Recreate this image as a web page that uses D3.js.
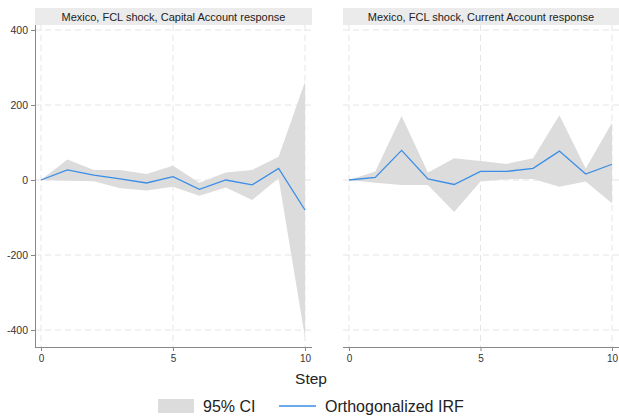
<!DOCTYPE html>
<html>
<head>
<meta charset="utf-8">
<script src="https://cdn.jsdelivr.net/npm/d3@7"></script>
<style>
  html, body { margin: 0; padding: 0; background: #fff; }
  svg { display: block; font-family: "Liberation Sans", Arial, sans-serif; }
</style>
</head>
<body>
<svg id="chart" width="619" height="419"></svg>
<script>
// Impulse-response steps
const steps = [0, 1, 2, 3, 4, 5, 6, 7, 8, 9, 10];

// Capital Account response to FCL shock
const capIrf   = [0, 27, 13, 3, -8, 9, -25, 0, -13, 31, -80];
const capUpper = [0, 55, 27, 27, 16, 38, -7, 20, 27, 62, 262];
const capLower = [0, -2, -3, -22, -28, -18, -42, -20, -53, 5, -420];

// Current Account response to FCL shock
const curIrf   = [0, 7, 79, 3, -12, 23, 23, 31, 77, 16, 42];
const curUpper = [0, 23, 171, 20, 58, 51, 43, 58, 173, 31, 153];
const curLower = [0, -7, -13, -13, -85, -4, 2, 3, -18, -4, -62];

const panelTitles = [
  "Mexico, FCL shock, Capital Account response",
  "Mexico, FCL shock, Current Account response"
];
const yTicks = [-400, -200, 0, 200, 400];
const xTicks = [0, 5, 10];
const legendLabels = ["95% CI", "Orthogonalized IRF"];

const panels = [
  { title: panelTitles[0], irf: capIrf, up: capUpper, lo: capLower, left: 35, right: 312, showY: true },
  { title: panelTitles[1], irf: curIrf, up: curUpper, lo: curLower, left: 343, right: 619, showY: false }
];

const svg = d3.select("#chart");
const plotTop = 25, plotBottom = 347;
const y = d3.scaleLinear().domain([-400, 400]).range([330, 30]);
const plainNum = d => String(d); // ASCII hyphen for negatives

const bandColor = "#dcdcdc";
const lineColor = "#3a8ee6";
const gridColor = "#e4e4e4";
const axisColor = "#888";

panels.forEach(p => {
  const x = d3.scaleLinear().domain([0, 10]).range([p.left + 6, p.right - 7]);
  const g = svg.append("g");

  // title strip
  g.append("rect")
    .attr("x", p.left).attr("y", 8)
    .attr("width", p.right - p.left).attr("height", 17)
    .attr("fill", "#ebebeb");
  g.append("text")
    .attr("x", (p.left + p.right) / 2).attr("y", 20.5)
    .attr("text-anchor", "middle")
    .attr("font-size", 11).attr("fill", "#222")
    .text(p.title);

  // grid
  g.selectAll(".hg").data(yTicks).enter().append("line")
    .attr("x1", p.left).attr("x2", p.right)
    .attr("y1", d => y(d)).attr("y2", d => y(d))
    .attr("stroke", gridColor).attr("stroke-width", 1)
    .attr("stroke-dasharray", "6,4");
  g.selectAll(".vg").data(xTicks).enter().append("line")
    .attr("x1", d => x(d)).attr("x2", d => x(d))
    .attr("y1", plotTop).attr("y2", plotBottom)
    .attr("stroke", gridColor).attr("stroke-width", 1)
    .attr("stroke-dasharray", "6,4");

  // confidence band
  const area = d3.area()
    .x((d, i) => x(steps[i]))
    .y0((d, i) => y(p.lo[i]))
    .y1((d, i) => y(p.up[i]));
  g.append("path").datum(steps).attr("d", area).attr("fill", bandColor);

  // IRF line
  const line = d3.line().x((d, i) => x(steps[i])).y((d, i) => y(p.irf[i]));
  g.append("path").datum(steps).attr("d", line)
    .attr("fill", "none").attr("stroke", lineColor).attr("stroke-width", 1.3);

  // x axis
  const xa = g.append("g").attr("transform", `translate(0,${plotBottom})`)
    .call(d3.axisBottom(x).tickValues(xTicks).tickSize(4).tickPadding(4).tickFormat(plainNum));
  xa.select(".domain").attr("d", `M${p.left},0.5H${p.right}`).attr("stroke", axisColor);
  xa.selectAll(".tick line").attr("stroke", axisColor);
  xa.selectAll(".tick text").attr("font-size", 10).attr("fill", "#333")
    .attr("font-family", "Liberation Sans, Arial, sans-serif");

  if (p.showY) {
    const ya = g.append("g").attr("transform", `translate(${p.left},0)`)
      .call(d3.axisLeft(y).tickValues(yTicks).tickSize(4).tickPadding(3).tickFormat(plainNum));
    ya.select(".domain").attr("d", `M0.5,${plotTop}V${plotBottom}`).attr("stroke", axisColor);
    ya.selectAll(".tick line").attr("stroke", axisColor);
    ya.selectAll(".tick text").attr("font-size", 10.5).attr("fill", "#333")
      .attr("font-family", "Liberation Sans, Arial, sans-serif");
  }
});

// shared x-axis title
svg.append("text")
  .attr("x", 311).attr("y", 384)
  .attr("text-anchor", "middle").attr("font-size", 15.5).attr("fill", "#222")
  .text("Step");

// legend
svg.append("rect").attr("x", 158).attr("y", 399).attr("width", 36).attr("height", 14).attr("fill", bandColor);
svg.append("text").attr("x", 203).attr("y", 412).attr("font-size", 16).attr("fill", "#222").text(legendLabels[0]);
svg.append("line").attr("x1", 279).attr("x2", 316).attr("y1", 406).attr("y2", 406)
  .attr("stroke", lineColor).attr("stroke-width", 1.3);
svg.append("text").attr("x", 325).attr("y", 412).attr("font-size", 16).attr("fill", "#222").text(legendLabels[1]);
</script>
</body>
</html>
